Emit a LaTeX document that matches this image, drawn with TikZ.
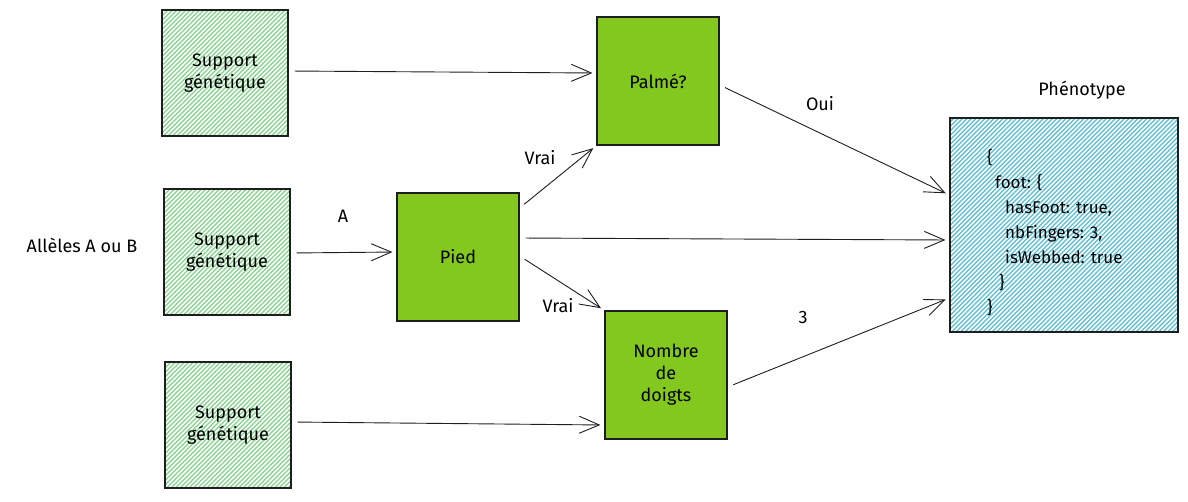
\documentclass[tikz,border=0pt]{standalone}
\usepackage{fontspec}
\setmainfont{Fira Sans}
\usetikzlibrary{arrows.meta}
\definecolor{hatchgreen}{RGB}{130,212,138}
\definecolor{hatchblue}{RGB}{85,190,215}
\definecolor{leafgreen}{RGB}{130,200,30}
\definecolor{ink}{RGB}{30,30,30}
\tikzset{
  txt/.style={font=\fontsize{18}{22}\selectfont},
  hatched/.style={path picture={
    \foreach \i in {-300,-295.5,...,300}
      \draw[#1, line width=1.1pt] ([xshift=\i pt]path picture bounding box.south west) -- ++(300pt,300pt);
  }},
  gene/.style={draw=ink, line width=1.2pt, minimum width=126pt, minimum height=126pt,
    hatched=hatchgreen, align=center, txt, inner sep=0pt},
  trait/.style={draw=ink, line width=1.2pt, fill=leafgreen, minimum width=122pt, minimum height=128pt,
    align=center, txt, inner sep=0pt},
  pheno/.style={draw=ink, line width=1.2pt, minimum width=228pt, minimum height=214pt,
    hatched=hatchblue, inner sep=0pt},
  link/.style={draw=ink, line width=0.9pt, -{Straight Barb[length=20pt,width=17pt,line width=0.9pt]}, shorten <=6pt, shorten >=4pt},
  lbl/.style={txt, inner sep=1pt},
}
\begin{document}
\begin{tikzpicture}[x=1pt,y=-1pt]
\useasboundingbox (0,0) rectangle (1188,501);
\fill[white] (0,0) rectangle (1188,501);

% genetic supports
\node[gene] (g1) at (225,73) {Support\\génétique};
\node[gene] (g2) at (227,252) {Support\\génétique};
\node[gene] (g3) at (228,425) {Support\\génétique};

% traits
\node[trait] (palme) at (658,81) {Palmé?};
\node[trait] (pied) at (458,257) {Pied};
\node[trait] (doigts) at (666,375) {Nombre\\de\\doigts};

% phenotype
\node[pheno] (ph) at (1064,225) {};
\node[lbl] (phlabel) at (1082,90) {Phénotype};
\node[lbl, anchor=north west, align=left, font=\fontsize{17}{25}\selectfont] (code) at (986,148)
  {\{\\
   \hspace*{8pt}foot: \{\\
   \hspace*{18pt}hasFoot: true,\\
   \hspace*{18pt}nbFingers: 3,\\
   \hspace*{18pt}isWebbed: true\\
   \hspace*{12pt}\}\\
   \}};

\node[lbl] (allele) at (82,245) {Allèles A ou B};

% connectors
\draw[link] (g1.east |- 0,71) -- (palme.west |- 0,73);
\draw[link] (g2.east |- 0,253) -- (pied.west |- 0,252);
\draw[link] (g3.east |- 0,422) -- (doigts.west |- 0,425);
\draw[link] (pied.east |- 0,208) -- (palme.south west);
\draw[link] (pied.east |- 0,238) -- (ph.west |- 0,240);
\draw[link] (pied.east |- 0,256) -- (doigts.north west);
\draw[link] (palme.east |- 0,85) -- (ph.west |- 0,195);
\draw[link] (doigts.east |- 0,387) -- (ph.west |- 0,298);

% connector labels
\node[lbl] (la) at (343,216) {A};
\node[lbl] (lv1) at (540,158) {Vrai};
\node[lbl] (lv2) at (558,306) {Vrai};
\node[lbl] (loui) at (820,104) {Oui};
\node[lbl] (l3) at (803,317) {3};
\end{tikzpicture}
\end{document}
